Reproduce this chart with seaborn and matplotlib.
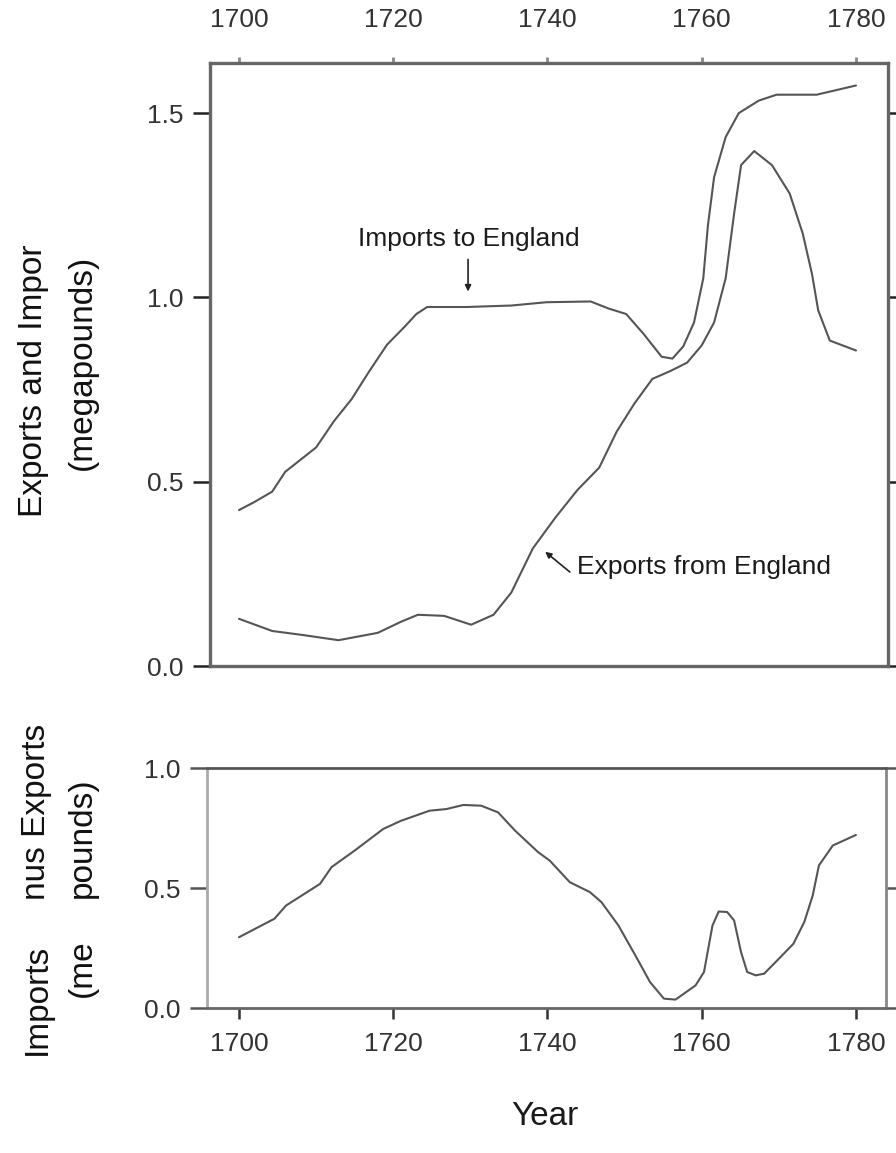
import matplotlib
matplotlib.use("Agg")
import matplotlib.pyplot as plt
import seaborn as sns
import pandas as pd

# ---- data ----
imp_years = [1700, 1702, 1704.3, 1706, 1708, 1710, 1712.3, 1714.6, 1716.9, 1719.2,
             1721.5, 1723, 1724.4, 1729.5, 1735.3, 1739.9, 1745.6, 1747.9, 1750.2,
             1752.5, 1754.8, 1756.2, 1757.6, 1759, 1760.2, 1760.8, 1761.6, 1763.1,
             1764.8, 1767.4, 1769.7, 1774.9, 1780]
imp_vals = [0.423, 0.445, 0.473, 0.527, 0.56, 0.593, 0.664, 0.724, 0.80, 0.872,
            0.921, 0.955, 0.974, 0.974, 0.978, 0.987, 0.989, 0.970, 0.955,
            0.90, 0.839, 0.834, 0.867, 0.932, 1.052, 1.195, 1.326, 1.435,
            1.50, 1.534, 1.55, 1.55, 1.575]

exp_years = [1700, 1704.3, 1708.3, 1712.9, 1718, 1721, 1723.2, 1726.6, 1730.1, 1733,
             1735.3, 1738.1, 1741, 1743.9, 1746.7, 1749, 1751.3, 1753.6, 1755.9,
             1758.1, 1760, 1761.6, 1763.1, 1764.2, 1765.1, 1766.8, 1769.1, 1771.4,
             1773.1, 1774.3, 1775.1, 1776.6, 1780]
exp_vals = [0.128, 0.095, 0.084, 0.07, 0.09, 0.12, 0.139, 0.136, 0.112, 0.139,
            0.199, 0.319, 0.402, 0.478, 0.538, 0.637, 0.713, 0.779, 0.80,
            0.823, 0.87, 0.932, 1.052, 1.228, 1.359, 1.397, 1.359, 1.282,
            1.173, 1.063, 0.965, 0.883, 0.856]

diff_years = [1700, 1704.6, 1706.1, 1710.5, 1712, 1715, 1718.7, 1721, 1724.7, 1726.9,
              1729.1, 1731.4, 1733.6, 1735.8, 1738.8, 1740.3, 1742.9, 1745.5, 1747,
              1749.2, 1751.4, 1753.3, 1755.1, 1756.6, 1759.2, 1760.3, 1761.4, 1762.2,
              1763.3, 1764.2, 1765.1, 1765.9, 1767, 1768.1, 1770, 1771.9, 1773.3,
              1774.4, 1775.2, 1777, 1780]
diff_vals = [0.295, 0.372, 0.427, 0.517, 0.587, 0.656, 0.746, 0.78, 0.822, 0.829,
             0.846, 0.843, 0.815, 0.739, 0.649, 0.614, 0.524, 0.483, 0.441,
             0.344, 0.219, 0.108, 0.039, 0.035, 0.094, 0.15, 0.344, 0.402,
             0.40, 0.365, 0.233, 0.15, 0.136, 0.143, 0.205, 0.268, 0.358,
             0.469, 0.594, 0.677, 0.721]

year_ticks = [1700, 1720, 1740, 1760, 1780]
top_yticks = [0.0, 0.5, 1.0, 1.5]
bot_yticks = [0.0, 0.5, 1.0]

# ---- style ----
sns.set_style("white")
plt.rcParams['font.family'] = ['Liberation Sans', 'DejaVu Sans']

W, H = 896, 1153
fig = plt.figure(figsize=(W / 100, H / 100), dpi=100)

def box(l, t, r, b):
    return [l / W, 1 - b / H, (r - l) / W, (b - t) / H]

ax1 = fig.add_axes(box(210, 63, 888, 666))
ax2 = fig.add_axes(box(207, 768, 886, 1008))

line_col = "#555555"
df_imp = pd.DataFrame({"Year": imp_years, "Value": imp_vals})
df_exp = pd.DataFrame({"Year": exp_years, "Value": exp_vals})
df_dif = pd.DataFrame({"Year": diff_years, "Value": diff_vals})

sns.lineplot(data=df_imp, x="Year", y="Value", ax=ax1, color=line_col, lw=1.5, estimator=None)
sns.lineplot(data=df_exp, x="Year", y="Value", ax=ax1, color=line_col, lw=1.5, estimator=None)
sns.lineplot(data=df_dif, x="Year", y="Value", ax=ax2, color=line_col, lw=1.5, estimator=None)

# ---- top panel ----
ax1.set_xlim(1696.24, 1784.15)
ax1.set_ylim(0.0, 1.636)
ax1.set_xticks(year_ticks)
ax1.set_yticks(top_yticks)
ax1.set_yticklabels([f"{v:.1f}" for v in top_yticks])
ax1.xaxis.tick_top()
ax1.set_xlabel("")
ax1.set_ylabel("")
ax1.tick_params(axis='x', top=True, bottom=False, labeltop=True, labelbottom=False,
                direction='out', length=4, width=2.0, color="#888888", pad=18,
                labelsize=19, labelcolor="#333333")
ax1.tick_params(axis='y', left=True, right=True, labelleft=True, labelright=False,
                direction='out', length=12, width=1.8, color="#222222", pad=7,
                labelsize=19, labelcolor="#333333")
for s in ax1.spines.values():
    s.set_color("#666666")
    s.set_linewidth(2.4)

ax1.text(1729.8, 1.158, "Imports to England", ha='center', va='center',
         fontsize=19, color="#1a1a1a")
ax1.annotate("", xy=(1729.7, 1.016), xytext=(1729.7, 1.103),
             arrowprops=dict(arrowstyle='-|>', color="#222222", lw=1.2,
                             mutation_scale=9, shrinkA=0, shrinkB=0))
ax1.text(1743.8, 0.269, "Exports from England", ha='left', va='center',
         fontsize=19, color="#1a1a1a")
ax1.annotate("", xy=(1739.7, 0.31), xytext=(1742.9, 0.255),
             arrowprops=dict(arrowstyle='-|>', color="#222222", lw=1.2,
                             mutation_scale=9, shrinkA=0, shrinkB=0))

# ---- bottom panel ----
ax2.set_xlim(1695.85, 1783.9)
ax2.set_ylim(0.0, 1.0)
ax2.set_xticks(year_ticks)
ax2.set_yticks(bot_yticks)
ax2.set_yticklabels([f"{v:.1f}" for v in bot_yticks])
ax2.set_ylabel("")
ax2.set_xlabel("Year", fontsize=24, color="#1a1a1a")
ax2.xaxis.set_label_coords((545 - 207) / 679, (1008 - 1101) / 240)
ax2.tick_params(axis='x', bottom=True, top=False, direction='out', length=8,
                width=1.8, color="#333333", pad=9, labelsize=19, labelcolor="#333333")
ax2.tick_params(axis='y', left=True, right=True, labelright=False, direction='out',
                length=12, width=1.8, color="#555555", pad=7,
                labelsize=19, labelcolor="#333333")
ax2.spines['top'].set_color("#555555")
ax2.spines['bottom'].set_color("#666666")
ax2.spines['left'].set_color("#aaaaaa")
ax2.spines['right'].set_color("#888888")
for s in ax2.spines.values():
    s.set_linewidth(2.0)

# ---- rotated y-label pieces (as they appear, partly cut) ----
def vtext(x, y, s):
    fig.text(x / W, 1 - y / H, s, rotation=90, ha='center', va='bottom',
             fontsize=24, color="#111111")

vtext(34, 517, "Exports and Impor")
vtext(82, 470, "(megapounds)")
vtext(37, 1055, "Imports")
vtext(37, 900, "nus Exports")
vtext(82, 997, "(me")
vtext(82, 898, "pounds)")

fig.savefig("out.png", dpi=100)
